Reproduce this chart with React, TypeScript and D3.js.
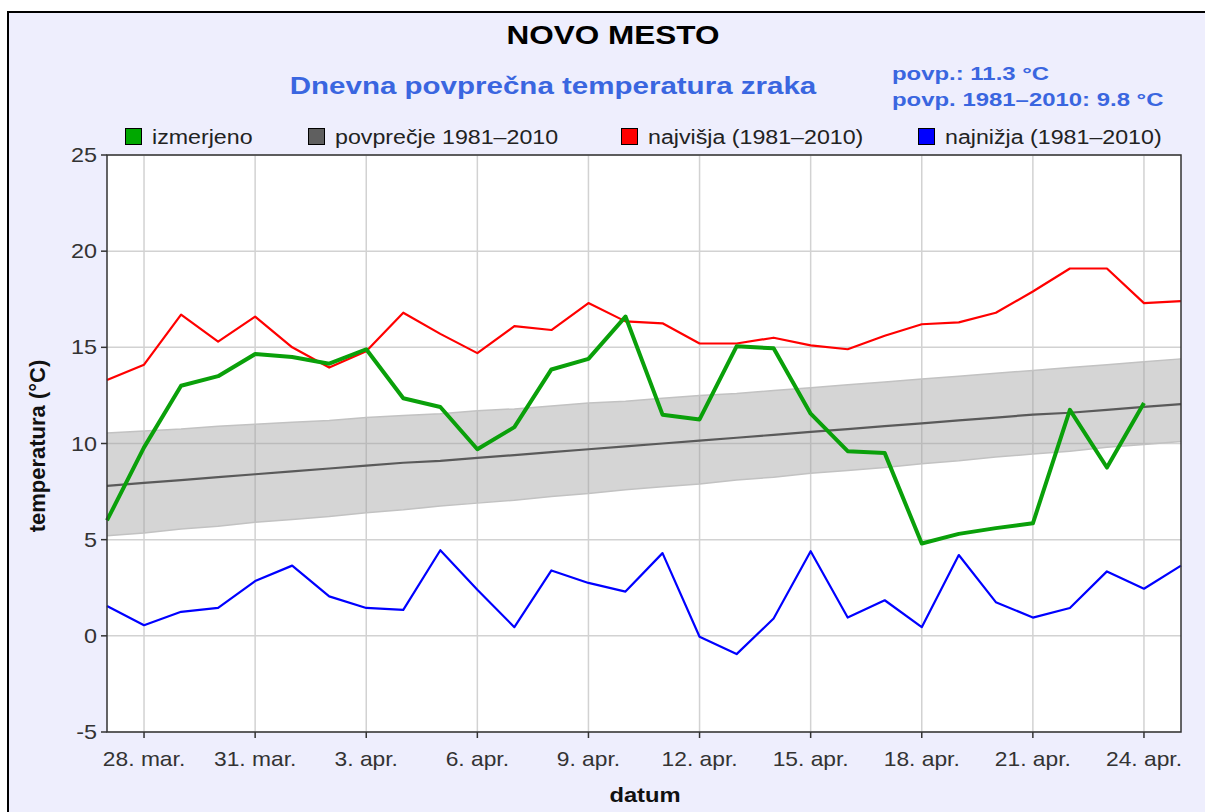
import * as d3 from "d3";

// 27. mar. .. 25. apr., one value per day
const startDate = new Date(2013, 2, 27);
const dayCount = 30;

const izmerjeno = [
  6.0, 9.8, 13.0, 13.5, 14.65, 14.5, 14.15, 14.9, 12.35, 11.9,
  9.7, 10.85, 13.85, 14.4, 16.6, 11.5, 11.25, 15.05, 14.95, 11.55,
  9.6, 9.5, 4.8, 5.3, 5.6, 5.85, 11.75, 8.75, 12.1,
];
const najvisja = [
  13.3, 14.1, 16.7, 15.3, 16.6, 15.0, 13.95, 14.8, 16.8, 15.7,
  14.7, 16.1, 15.9, 17.3, 16.35, 16.25, 15.2, 15.2, 15.5, 15.1,
  14.9, 15.6, 16.2, 16.3, 16.8, 17.9, 19.1, 19.1, 17.3, 17.4,
];
const najnizja = [
  1.55, 0.55, 1.25, 1.45, 2.85, 3.65, 2.05, 1.45, 1.35, 4.45,
  2.4, 0.45, 3.4, 2.75, 2.3, 4.3, -0.05, -0.95, 0.9, 4.4,
  0.95, 1.85, 0.45, 4.2, 1.75, 0.95, 1.45, 3.35, 2.45, 3.65,
];
const povprecje = [
  7.8, 7.95, 8.1, 8.25, 8.4, 8.55, 8.7, 8.85, 9.0, 9.1,
  9.25, 9.4, 9.55, 9.7, 9.85, 10.0, 10.15, 10.3, 10.45, 10.6,
  10.75, 10.9, 11.05, 11.2, 11.35, 11.5, 11.6, 11.75, 11.9, 12.05,
];
const pasZgoraj = [
  10.55, 10.65, 10.75, 10.9, 11.0, 11.1, 11.2, 11.35, 11.45, 11.55,
  11.7, 11.8, 11.95, 12.1, 12.2, 12.35, 12.5, 12.6, 12.75, 12.9,
  13.05, 13.2, 13.35, 13.5, 13.65, 13.8, 13.95, 14.1, 14.25, 14.4,
];
const pasSpodaj = [
  5.2, 5.35, 5.55, 5.7, 5.9, 6.05, 6.2, 6.4, 6.55, 6.75,
  6.9, 7.05, 7.25, 7.4, 7.6, 7.75, 7.9, 8.1, 8.25, 8.45,
  8.6, 8.75, 8.95, 9.1, 9.3, 9.45, 9.6, 9.8, 9.95, 10.1,
];

const yTicks = [-5, 0, 5, 10, 15, 20, 25];
const monthNames = ["jan", "feb", "mar", "apr", "maj", "jun", "jul", "avg", "sep", "okt", "nov", "dec"];

const legendItems = [
  { label: "izmerjeno", color: "#00a800" },
  { label: "povprečje 1981–2010", color: "#5f5f5f" },
  { label: "najvišja (1981–2010)", color: "#ff0000" },
  { label: "najnižja (1981–2010)", color: "#0000ff" },
];

const titleText = "NOVO MESTO";
const subtitleText = "Dnevna povprečna temperatura zraka";
const povpLines = ["povp.: 11.3 °C", "povp. 1981–2010: 9.8 °C"];

const FONT = "Arial, 'Liberation Sans', sans-serif";

// horizontally stretched text, like the original picture
function SText({ x, y, sx = 1.2, anchor = "start", size, bold = false, fill = "#222", children }: any) {
  return (
    <text
      transform={`translate(${x},${y}) scale(${sx},1)`}
      textAnchor={anchor}
      fontSize={size}
      fontWeight={bold ? "bold" : "normal"}
      fontFamily={FONT}
      fill={fill}
    >
      {children}
    </text>
  );
}

export default function App() {
  const W = 1205;
  const H = 812;
  const m = { left: 107, right: 1181, top: 155, bottom: 732 };

  const dates = d3.range(dayCount).map((i) => d3.timeDay.offset(startDate, i));
  const x = d3
    .scaleTime()
    .domain([dates[0], dates[dates.length - 1]])
    .range([m.left, m.right]);
  const y = d3.scaleLinear().domain([-5, 25]).range([m.bottom, m.top]);
  const xTicks = dates.filter((_, i) => i % 3 === 1);
  const fmt = (d: Date) => `${d.getDate()}. ${monthNames[d.getMonth()]}.`;

  const line = d3
    .line<number>()
    .x((_, i) => x(dates[i]))
    .y((d) => y(d));
  const area = d3
    .area<number>()
    .x((_, i) => x(dates[i]))
    .y0((_, i) => y(pasSpodaj[i]))
    .y1((d) => y(d));

  const legendX = [125, 308, 621, 918];

  return (
    <div style={{ position: "fixed", left: 0, top: 0, width: W, height: H }}>
      <svg width={W} height={H} style={{ display: "block" }}>
        <rect x={8} y={12} width={W} height={H} fill="#eeeefd" stroke="#000" strokeWidth={2} />

        <SText x={613} y={44} anchor="middle" size={25} bold sx={1.26} fill="#000">
          {titleText}
        </SText>
        <SText x={553} y={94} anchor="middle" size={24} bold sx={1.23} fill="#3a66e0">
          {subtitleText}
        </SText>
        {povpLines.map((t, i) => (
          <SText key={i} x={892} y={80 + i * 26} size={18} bold sx={1.33} fill="#3a66e0">
            {t}
          </SText>
        ))}

        {legendItems.map((d, i) => (
          <g key={d.label}>
            <rect x={legendX[i] + 0.5} y={128.5} width={16} height={16} fill={d.color} stroke="#000" />
            <SText x={legendX[i] + 27} y={144} size={19.5} sx={1.19} fill="#222">
              {d.label}
            </SText>
          </g>
        ))}

        {/* plot area */}
        <rect x={m.left} y={m.top} width={m.right - m.left} height={m.bottom - m.top} fill="#fff" />
        {yTicks.map((t) => (
          <line key={t} x1={m.left} x2={m.right} y1={y(t)} y2={y(t)} stroke="#d2d2d2" strokeWidth={1.5} />
        ))}
        {xTicks.map((t, i) => (
          <line key={i} x1={x(t)} x2={x(t)} y1={m.top} y2={m.bottom} stroke="#d2d2d2" strokeWidth={1.5} />
        ))}

        <path d={area(pasZgoraj) ?? ""} fill="#9a9a9a" fillOpacity={0.42} />
        <path d={line(pasZgoraj) ?? ""} fill="none" stroke="#c2c2c2" strokeWidth={1.5} />
        <path d={line(pasSpodaj) ?? ""} fill="none" stroke="#c2c2c2" strokeWidth={1.5} />
        <path d={line(povprecje) ?? ""} fill="none" stroke="#5a5a5a" strokeWidth={2.2} />
        <path d={line(najnizja) ?? ""} fill="none" stroke="#0000ff" strokeWidth={2.2} strokeLinejoin="round" />
        <path d={line(najvisja) ?? ""} fill="none" stroke="#ff0000" strokeWidth={2.2} strokeLinejoin="round" />
        <path d={line(izmerjeno) ?? ""} fill="none" stroke="#0aa00a" strokeWidth={4} strokeLinejoin="round" />

        <rect
          x={m.left}
          y={m.top}
          width={m.right - m.left}
          height={m.bottom - m.top}
          fill="none"
          stroke="#333"
          strokeWidth={1.5}
        />

        {/* y axis */}
        {yTicks.map((t) => (
          <g key={t}>
            <line x1={m.left - 6} x2={m.left} y1={y(t)} y2={y(t)} stroke="#333" strokeWidth={1.5} />
            <SText x={97} y={y(t) + 7} anchor="end" size={20} sx={1.17} fill="#333">
              {t}
            </SText>
          </g>
        ))}
        <text
          transform={`translate(45,446) rotate(-90)`}
          textAnchor="middle"
          fontSize={22}
          fontWeight="bold"
          fontFamily={FONT}
          fill="#111"
        >
          temperatura (°C)
        </text>

        {/* x axis */}
        {xTicks.map((t, i) => (
          <g key={i}>
            <line x1={x(t)} x2={x(t)} y1={m.bottom} y2={m.bottom + 6} stroke="#333" strokeWidth={1.5} />
            <SText x={x(t)} y={766} anchor="middle" size={20} sx={1.14} fill="#333">
              {fmt(t)}
            </SText>
          </g>
        ))}
        <SText x={645} y={802} anchor="middle" size={21} bold sx={1.13} fill="#111">
          datum
        </SText>
      </svg>
    </div>
  );
}
